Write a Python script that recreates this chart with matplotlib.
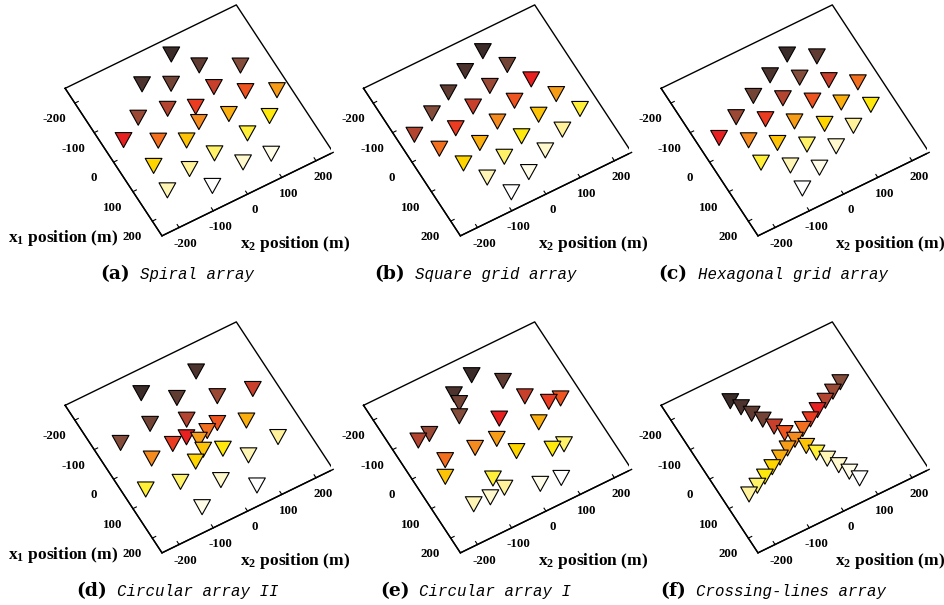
import numpy as np
import matplotlib
matplotlib.use("Agg")
import matplotlib.pyplot as plt
from matplotlib.colors import LinearSegmentedColormap
from matplotlib.path import Path

plt.rcParams["font.family"] = ["Liberation Serif", "DejaVu Serif"]
plt.rcParams["font.weight"] = "bold"
plt.rcParams["axes.unicode_minus"] = False
plt.rcParams["mathtext.fontset"] = "custom"
plt.rcParams["mathtext.rm"] = "Liberation Serif:bold"
plt.rcParams["mathtext.bf"] = "Liberation Serif:bold"
plt.rcParams["mathtext.it"] = "Liberation Serif:bold"

# sensor positions (m): x1 first, x2 second
spiral_x1 = [-204, -141, -89, -164, -129, -67, -17, 20, -83, -69, -39, 4, 21,
             77, 94, -44, 1, 36, 104, 163, 176, 60, 113, 140, 185]
spiral_x2 = [34, 80, 171, -74, -9, 81, 145, 216, -131, -53, 12, -3, 75,
             162, 88, -196, -120, -57, -14, 36, 111, -167, -92, -172, -66]

square_x1 = [-196, -167, -130, -133, -98, -63, -100, -66, -29, 6, -67, -32, 3,
             37, 74, 0, 36, 71, 105, 68, 102, 137, 134, 172, 202]
square_x2 = [68, 0, 102, -68, 33, 134, -135, -34, 66, 168, -205, -104, -2,
             99, 199, -170, -72, 30, 130, -138, -38, 62, -106, -6, -74]

hex_x1 = [-179, -137, -147, -104, -61, -19, -115, -72, -29, 12, 55, -82, -40,
          2, 46, 87, -50, -7, 36, 77, 118, 66, 110, 152, 184]
hex_x2 = [78, 141, 10, 72, 133, 194, -57, 5, 67, 128, 190, -126, -64,
          -3, 60, 121, -194, -132, -72, -9, 53, -137, -76, -15, -83]

circ2_x1 = [-173, -186, -129, -83, -57, -96, -61, -14, -6, 16, 98, -84, -16,
            -16, 6, 37, 58, 59, 108, -5, 91, 137, 196, 67, 183]
circ2_x2 = [89, -64, 8, 100, 189, -89, -2, 61, 27, 129, 175, -182, -68,
            -28, -4, -9, -43, 36, 83, -136, -106, -14, 58, -194, -95]

circ1_x1 = [-192, -138, -165, -136, -102, -71, -27, -21, -46, 13, -91, -94, -7,
            -1, 3, 59, 98, 101, 36, 100, 138, 145, 142, 173, 184]
circ1_x2 = [33, 94, -34, -35, -54, 120, 165, 196, 31, 113, -180, -146, -149,
            -65, -4, 22, 105, 137, -173, -70, -58, -103, -150, 27, 82]

cross_x1 = [-174, -145, -115, -86, -54, -24, 6, 36, 66, 95, 126, 156, 186,
            89, 77, 63, 48, 33, 19, -12, -27, -42, -56, -70, -85]
cross_x2 = [-91, -76, -62, -46, -31, -17, -4, 12, 25, 40, 56, 70, 83,
            -185, -154, -124, -94, -63, -33, 29, 60, 89, 120, 150, 180]

panel_tags = ["(a)", "(b)", "(c)", "(d)", "(e)", "(f)"]
panel_names = ["Spiral array", "Square grid array", "Hexagonal grid array",
               "Circular array II", "Circular array I", "Crossing-lines array"]
ticks = [-200, -100, 0, 100, 200]
lim = (-250, 250)

W, H = 944, 605
SIDE = 270          # px, square box of each 3d axes
ROW_SHIFT = 317     # px between the two rows
OFF_X, OFF_Y = -3.0, 3.5   # projected centre sits a bit off the axes centre

# colour ramp: dark brown -> red -> orange -> yellow -> white
sensor_cmap = LinearSegmentedColormap.from_list("sensors", [
    (0.0, "#3b2b29"), (0.167, "#854c3a"), (0.29, "#c8402b"), (0.333, "#e82020"),
    (0.5, "#f5891f"), (0.667, "#ffd500"), (0.72, "#ffee10"), (0.833, "#fff29a"),
    (1.0, "#ffffff")])

# point-down triangle (MATLAB style 'v'), a bit flatter than matplotlib's
tri = Path([(-1, 0.9), (1, 0.9), (0, -0.9), (-1, 0.9)],
           [Path.MOVETO, Path.LINETO, Path.LINETO, Path.CLOSEPOLY])


def fx(px):
    return px / W


def fy(py):
    return 1 - py / H


def array_panel(fig, cx, cy, x1, x2):
    cx, cy = cx + OFF_X, cy + OFF_Y
    rect = [fx(cx - SIDE / 2), fy(cy + SIDE / 2), SIDE / W, SIDE / H]
    ax = fig.add_axes(rect, projection="3d")
    ax.set_proj_type("ortho")
    ax.view_init(elev=59.5, azim=-29.5)
    ax.set_box_aspect((1, 1, 0.001))
    ax.patch.set_facecolor("none")
    ax.grid(False)

    # plane outline
    lo, hi = lim
    ax.plot([lo, hi, hi, lo, lo], [lo, lo, hi, hi, lo], [0, 0, 0, 0, 0],
            color="k", lw=1.0)

    x1 = np.asarray(x1, float)
    x2 = np.asarray(x2, float)
    rank = np.argsort(np.argsort(x1))
    colors = sensor_cmap(rank / (len(x1) - 1))
    ax.scatter(x1, x2, np.zeros_like(x1), marker=tri, s=145, c=colors,
               edgecolors="k", linewidths=0.8, depthshade=False, alpha=1)

    ax.set_xlim(*lim)
    ax.set_ylim(*lim)
    ax.set_zlim(-1, 1)
    ax.set_xticks(ticks)
    ax.set_yticks(ticks)
    ax.set_zticks([])
    ax.xaxis.set_tick_params(labelsize=9.3, pad=4)
    ax.yaxis.set_tick_params(labelsize=9.3, pad=-1)

    for axis in (ax.xaxis, ax.yaxis):
        axis.set_pane_color((1, 1, 1, 0))
        axis.pane.set_edgecolor((1, 1, 1, 0))
        axis.line.set_color("k")
        axis.line.set_linewidth(1.0)
        axis._axinfo["tick"]["inward_factor"] = 0.0
        axis._axinfo["tick"]["outward_factor"] = 0.25
    ax.zaxis.set_pane_color((1, 1, 1, 0))
    ax.zaxis.pane.set_edgecolor((1, 1, 1, 0))
    ax.zaxis.line.set_color((1, 1, 1, 0))
    return ax


def caption(fig, renderer, center, base, tag, name):
    t1 = fig.text(0, fy(base), tag, family="DejaVu Serif", weight="bold",
                  fontsize=13.5, ha="left", va="baseline")
    t2 = fig.text(0, fy(base), name, family="Liberation Mono", style="italic",
                  weight="normal", fontsize=11.3, ha="left", va="baseline")
    w1 = t1.get_window_extent(renderer).width
    w2 = t2.get_window_extent(renderer).width
    gap = 10
    left = center - (w1 + gap + w2) / 2
    t1.set_x(fx(left))
    t2.set_x(fx(left + w1 + gap))


def main():
    fig = plt.figure(figsize=(W / 100, H / 100), dpi=100)
    renderer = fig.canvas.get_renderer()

    data = [(spiral_x1, spiral_x2), (square_x1, square_x2), (hex_x1, hex_x2),
            (circ2_x1, circ2_x2), (circ1_x1, circ1_x2), (cross_x1, cross_x2)]
    col_cx = [198.5, 496.9, 794.5]
    caption_cx = [177, 475.5, 773]
    x2_label_left = [240, 538, 835]

    for i, (x1, x2) in enumerate(data):
        row, col = divmod(i, 3)
        cy = 120.5 + row * ROW_SHIFT
        array_panel(fig, col_cx[col], cy, x1, x2)

        caption(fig, renderer, caption_cx[col], 279 + row * ROW_SHIFT,
                panel_tags[i], panel_names[i])

        fig.text(fx(x2_label_left[col]), fy(248 + row * ROW_SHIFT),
                 r"$\mathbf{x_2}$ position (m)", fontsize=12.5, ha="left", va="baseline")
        if col == 0:
            fig.text(fx(8), fy(242 + row * ROW_SHIFT),
                     r"$\mathbf{x_1}$ position (m)", fontsize=12.5, ha="left", va="baseline")

    fig.savefig("out.png", dpi=100)


if __name__ == "__main__":
    main()
